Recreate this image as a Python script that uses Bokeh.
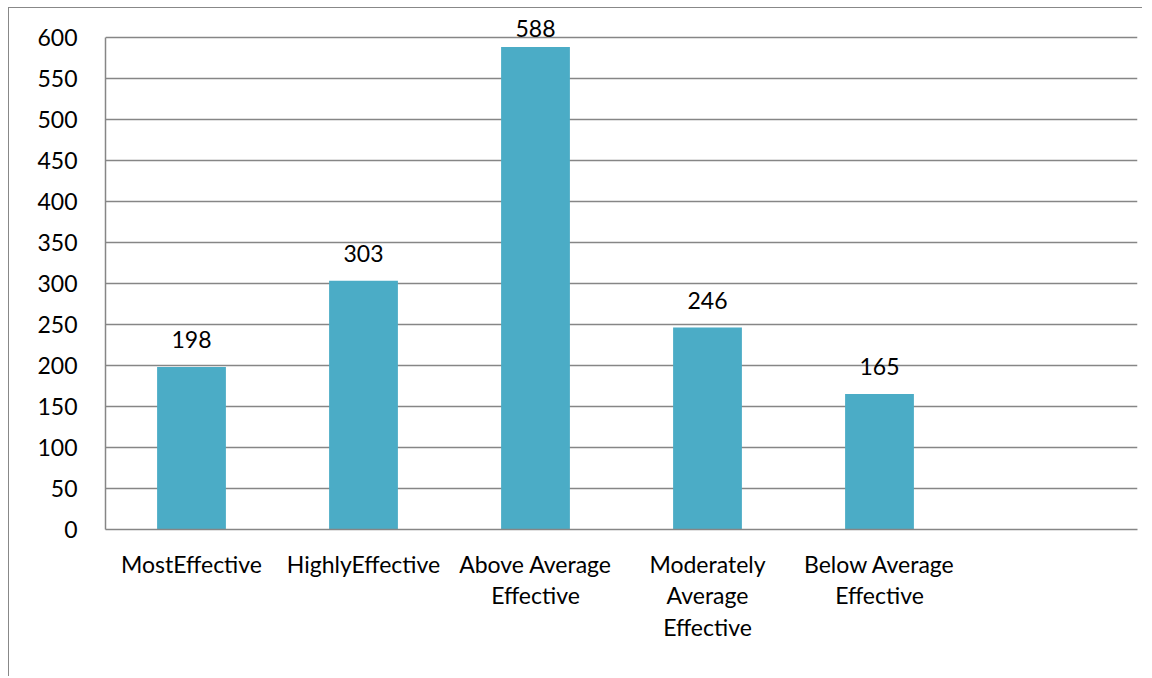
import numpy as np
from bokeh.plotting import figure
from bokeh.models import ColumnDataSource, LabelSet, FactorRange, Range1d, SingleIntervalTicker
from bokeh.core.properties import value
from bokeh.embed import file_html
from bokeh.resources import INLINE

# ---- data ----
categories = ["MostEffective", "HighlyEffective", "Above Average\nEffective",
              "Moderately\nAverage\nEffective", "Below Average\nEffective", " "]
values = [198, 303, 588, 246, 165, None]
y_max = 600
y_step = 50

FONT = "Lato"
FS = "23px"
GRID = "#868686"
BAR = "#4BACC6"

vals = np.array([np.nan if v is None else v for v in values], dtype=float)
mask = ~np.isnan(vals)
cats_present = [c for c, m in zip(categories, mask) if m]
bar_src = ColumnDataSource(dict(cat=cats_present, val=vals[mask]))
lab_y = np.minimum(vals[mask] + 23, y_max)
lab_src = ColumnDataSource(dict(cat=cats_present, y=lab_y,
                                txt=[str(int(v)) for v in vals[mask]]))

p = figure(x_range=FactorRange(*categories, range_padding=0),
           y_range=Range1d(0, y_max + 30),
           width=1134, height=669,
           output_backend="svg", toolbar_location=None,
           min_border_left=96, min_border_top=4, min_border_right=6, min_border_bottom=148)
p.margin = (7, 0, 0, 8)
p.styles = {"border-left": "1px solid #888888", "border-top": "1px solid #888888"}

p.vbar(x="cat", top="val", width=0.4, source=bar_src, color=BAR, line_color=None)

labels = LabelSet(x="cat", y="y", text="txt", source=lab_src, text_align="center",
                  text_baseline="alphabetic", text_font=value(FONT),
                  text_font_size=value(FS), text_color="#000000")
p.add_layout(labels)

p.outline_line_color = None
p.xgrid.grid_line_color = None
p.ygrid.grid_line_color = GRID
p.ygrid.grid_line_width = 1.5
p.yaxis.ticker = SingleIntervalTicker(interval=y_step)
p.yaxis.bounds = (0, y_max)

for ax in (p.xaxis[0], p.yaxis[0]):
    ax.axis_line_color = GRID
    ax.axis_line_width = 1.5
    ax.major_tick_line_color = None
    ax.minor_tick_line_color = None
    ax.major_tick_in = 0
    ax.major_tick_out = 0
    ax.major_label_text_font = FONT
    ax.major_label_text_font_size = FS
    ax.major_label_text_color = "#000000"

p.yaxis.major_label_standoff = 24
p.xaxis.major_label_standoff = 20
p.xaxis.major_label_text_line_height = 1.14

open("out.html", "w").write(file_html(p, INLINE))
